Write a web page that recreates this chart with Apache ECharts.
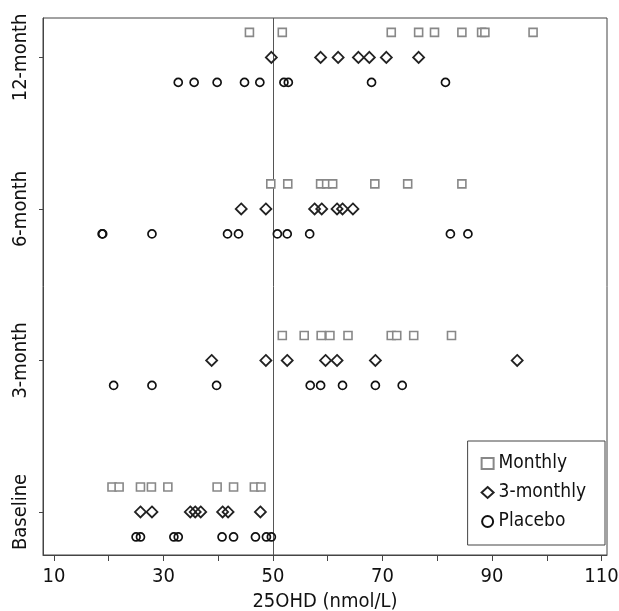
<!DOCTYPE html>
<html>
<head>
<meta charset="utf-8">
<script src="https://cdn.jsdelivr.net/npm/echarts@6/dist/echarts.min.js"></script>
<style>
html,body{margin:0;padding:0;background:#fff;}
#chart{width:619px;height:611px;}
</style>
</head>
<body>
<div id="chart"></div>
<script>
// Categories (bottom to top)
const categories = ['Baseline', '3-month', '6-month', '12-month'];
const seriesNames = ['Monthly', '3-monthly', 'Placebo'];
const xTicks = [10, 20, 30, 40, 50, 60, 70, 80, 90, 100, 110];
const xTickLabels = [10, 30, 50, 70, 90, 110];
const refLine = 50;

// 25OHD values per group, per time point (Baseline, 3-month, 6-month, 12-month)
const monthlyBaseline = [20.6, 21.9, 25.8, 27.8, 30.8, 39.8, 42.8, 46.6, 47.8];
const monthly3m = [51.7, 55.7, 58.8, 60.4, 63.7, 71.6, 72.6, 75.7, 82.6];
const monthly6m = [49.6, 52.7, 58.7, 59.8, 60.9, 68.6, 74.6, 84.5];
const monthly12m = [45.7, 51.7, 71.6, 76.6, 79.5, 84.5, 88.1, 88.7, 97.5];

const threeMonthlyBaseline = [25.8, 27.9, 34.9, 35.8, 36.8, 40.8, 41.8, 47.7];
const threeMonthly3m = [38.8, 48.7, 52.6, 59.6, 61.7, 68.7, 94.6];
const threeMonthly6m = [44.2, 48.7, 57.6, 58.9, 61.7, 62.7, 64.6];
const threeMonthly12m = [49.7, 58.7, 61.9, 65.6, 67.6, 70.7, 76.6];

const placeboBaseline = [25.0, 25.8, 31.9, 32.7, 40.7, 42.8, 46.8, 48.8, 49.7];
const placebo3m = [20.9, 27.9, 39.7, 56.8, 58.7, 62.7, 68.7, 73.6];
const placebo6m = [18.8, 18.9, 27.9, 41.7, 43.7, 50.8, 52.6, 56.7, 82.4, 85.6];
const placebo12m = [32.7, 35.6, 39.8, 44.8, 47.6, 52.0, 52.8, 68.0, 81.5];

const monthly = [monthlyBaseline, monthly3m, monthly6m, monthly12m];
const threeMonthly = [threeMonthlyBaseline, threeMonthly3m, threeMonthly6m, threeMonthly12m];
const placebo = [placeboBaseline, placebo3m, placebo6m, placebo12m];

const rowOffset = 0.165;
function build(groups, off) {
  const out = [];
  groups.forEach((vals, ci) => vals.forEach(v => out.push([v, ci + off])));
  return out;
}

const FONT = '"Liberation Sans Narrow", "Arial Narrow", "DejaVu Sans Condensed", "Liberation Sans", Arial, sans-serif';

const chart = echarts.init(document.getElementById('chart'), null, {renderer: 'canvas'});
chart.setOption({
  animation: false,
  backgroundColor: '#fff',
  textStyle: {fontFamily: FONT},
  grid: {left: 43, right: 12, top: 18, bottom: 56, show: true, borderColor: '#444', borderWidth: 1,
         backgroundColor: 'transparent', containLabel: false, outerBoundsMode: 'none'},
  xAxis: {
    type: 'value', min: 8, max: 111,
    name: '25OHD (nmol/L)', nameLocation: 'middle', nameGap: 37,
    nameTextStyle: {fontSize: 20, color: '#111', fontFamily: FONT},
    axisLine: {show: true, onZero: false, lineStyle: {color: '#444', width: 1}},
    axisTick: {show: true, inside: false, customValues: xTicks, length: 6, lineStyle: {color: '#444'}},
    axisLabel: {customValues: xTickLabels, fontSize: 20, color: '#111', margin: 12, fontFamily: FONT},
    splitLine: {show: false}
  },
  yAxis: {
    type: 'value', min: -0.284, max: 3.26,
    axisLine: {show: true, onZero: false, lineStyle: {color: '#444', width: 1}},
    axisTick: {show: true, inside: false, customValues: [0, 1, 2, 3], length: 4, lineStyle: {color: '#444'}},
    axisLabel: {
      customValues: [0, 1, 2, 3], rotate: 90, fontSize: 20, color: '#111', margin: 12, fontFamily: FONT,
      formatter: v => categories[Math.round(v)]
    },
    splitLine: {show: false}
  },
  legend: {
    orient: 'vertical', right: 14, bottom: 66,
    backgroundColor: '#fff', borderColor: '#444', borderWidth: 1,
    padding: [13, 19, 14, 13], itemGap: 10, itemWidth: 12, itemHeight: 11,
    textStyle: {fontSize: 19, color: '#111', fontFamily: FONT},
    data: seriesNames
  },
  series: [
    {
      name: 'Monthly', type: 'scatter', symbol: 'rect', symbolSize: 8,
      itemStyle: {color: '#fff', borderColor: '#888', borderWidth: 1.6, opacity: 1},
      data: build(monthly, rowOffset), z: 3,
      markLine: {
        silent: true, symbol: 'none', label: {show: false},
        lineStyle: {color: '#555', width: 1, type: 'solid'},
        data: [{xAxis: refLine}], z: 1
      }
    },
    {
      name: '3-monthly', type: 'scatter', symbol: 'diamond', symbolSize: 11,
      itemStyle: {color: 'rgba(255,255,255,0)', borderColor: '#222', borderWidth: 1.8, opacity: 1},
      data: build(threeMonthly, 0), z: 4
    },
    {
      name: 'Placebo', type: 'scatter', symbol: 'circle', symbolSize: 8,
      itemStyle: {color: 'rgba(255,255,255,0)', borderColor: '#111', borderWidth: 1.7, opacity: 1},
      data: build(placebo, -rowOffset), z: 4
    }
  ]
});
</script>
</body>
</html>
